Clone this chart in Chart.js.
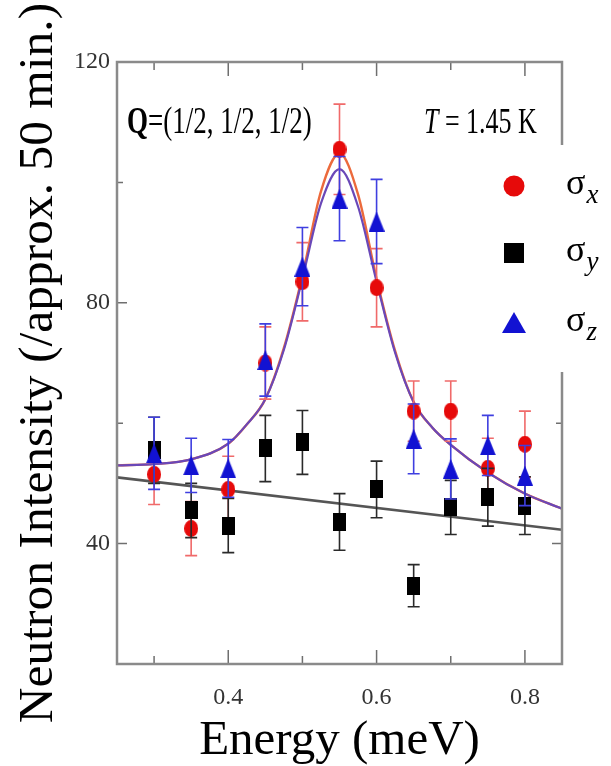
<!DOCTYPE html>
<html>
<head>
<meta charset="utf-8">
<script src="https://cdn.jsdelivr.net/npm/chart.js@4/dist/chart.umd.min.js"></script>
<style>
html,body{margin:0;padding:0;background:#fff;}
#wrap{width:611px;height:766px;position:relative;}
</style>
</head>
<body>
<div id="wrap"><canvas id="c"></canvas></div>
<script>
// ---- data ----
const energies = [0.30, 0.35, 0.40, 0.45, 0.50, 0.55, 0.60, 0.65, 0.70, 0.75, 0.80];
const sigmaX    = [51.5, 42.5, 49.0, 70.0, 83.5, 105.5, 82.5, 62.0, 62.0, 52.5, 56.5];
const sigmaXErr = [5.0, 4.5, 5.5, 6.0, 6.5, 7.5, 6.5, 5.0, 5.0, 5.0, 5.5];
const sigmaY    = [55.5, 45.5, 43.0, 55.8, 56.8, 43.6, 49.0, 33.0, 46.0, 47.7, 46.3];
const sigmaYErr = [5.5, 4.5, 4.5, 5.5, 5.3, 4.7, 4.7, 3.5, 4.5, 4.8, 4.8];
const sigmaZ    = [55.0, 53.0, 52.5, 70.5, 86.0, 97.3, 93.5, 57.4, 52.4, 56.3, 51.3];
const sigmaZErr = [6.0, 4.5, 4.8, 6.0, 6.5, 7.0, 7.0, 5.8, 5.0, 5.0, 5.0];

// fitted curves
const fitEnergy = [0.25, 0.30, 0.35, 0.40, 0.425, 0.45, 0.475, 0.50, 0.525, 0.55, 0.575, 0.60, 0.625, 0.65, 0.675, 0.70, 0.75, 0.80, 0.85];
const fitX      = [53.0, 53.2, 54.0, 56.6, 59.8, 64.0, 72.5, 84.5, 98.5, 104.8, 98.0, 84.0, 72.0, 63.5, 59.3, 56.4, 51.8, 48.3, 45.8];
const fitZ      = [53.0, 53.2, 54.0, 56.6, 59.8, 64.0, 72.2, 84.0, 96.5, 102.2, 96.0, 83.5, 71.7, 63.5, 59.3, 56.4, 51.8, 48.3, 45.8];
const fitYEnergy = [0.25, 0.85];
const fitY       = [51.0, 42.3];

// axes
const xTickValues = [0.4, 0.6, 0.8];
const xTickLabels = ['0.4', '0.6', '0.8'];
const xMinorTicks = [0.3, 0.5, 0.7];
const yTickValues = [40, 80, 120];
const yTickLabels = ['40', '80', '120'];
const yMinorTicks = [60, 100];

const seriesNames = ['x', 'y', 'z'];
const titleX = 'Energy (meV)';
const titleY = 'Neutron Intensity (/approx. 50 min.)';
const annotQ = ['Q', '=(1/2, 1/2, 1/2)'];
const annotT = ['T', ' = 1.45 K'];

// ---- helpers ----
const pts = (xs, ys) => xs.map((x, i) => ({x: x, y: ys[i]}));
function marker(shape, w, h, color) {
  const c = document.createElement('canvas');
  c.width = w; c.height = h;
  const g = c.getContext('2d');
  g.fillStyle = color;
  g.beginPath();
  if (shape === 'circle') { g.ellipse(w/2, h/2, w/2, h/2, 0, 0, Math.PI*2); }
  else if (shape === 'rect') { g.rect(0, 0, w, h); }
  else { g.moveTo(w/2, 0); g.lineTo(w, h); g.lineTo(0, h); g.closePath(); }
  g.fill();
  return c;
}
const RED = '#e60a0a', BLACK = '#000000', BLUE = '#1212d2';

const errorBars = {
  id: 'errorBars',
  beforeDatasetDraw(chart, args) {
    const ds = chart.data.datasets[args.index];
    if (!ds.errors) return;
    const ys = chart.scales.y, ctx = chart.ctx;
    ctx.save();
    ctx.strokeStyle = ds.errorColor;
    ctx.lineWidth = 1.6;
    args.meta.data.forEach((p, i) => {
      const v = ds.data[i].y, e = ds.errors[i];
      const y1 = ys.getPixelForValue(v + e), y2 = ys.getPixelForValue(v - e);
      ctx.beginPath();
      ctx.moveTo(p.x, y1); ctx.lineTo(p.x, y2);
      ctx.moveTo(p.x - 6, y1); ctx.lineTo(p.x + 6, y1);
      ctx.moveTo(p.x - 6, y2); ctx.lineTo(p.x + 6, y2);
      ctx.stroke();
    });
    ctx.restore();
  }
};

const frameTicks = {
  id: 'frameTicks',
  beforeDraw(chart) {
    const ctx = chart.ctx;
    ctx.save(); ctx.fillStyle = '#fff'; ctx.fillRect(0, 0, chart.width, chart.height); ctx.restore();
  },
  afterDatasetsDraw(chart) {
    const ctx = chart.ctx, a = chart.chartArea, xs = chart.scales.x, ys = chart.scales.y;
    ctx.save();
    ctx.strokeStyle = '#6f6f6f';
    ctx.lineWidth = 1.5;
    const xt = (vals, len) => vals.forEach(v => {
      const px = xs.getPixelForValue(v);
      ctx.beginPath();
      ctx.moveTo(px, a.bottom); ctx.lineTo(px, a.bottom - len);
      ctx.moveTo(px, a.top); ctx.lineTo(px, a.top + len);
      ctx.stroke();
    });
    const yt = (vals, len) => vals.forEach(v => {
      const py = ys.getPixelForValue(v);
      ctx.beginPath();
      ctx.moveTo(a.left, py); ctx.lineTo(a.left + len, py);
      ctx.moveTo(a.right, py); ctx.lineTo(a.right - len, py);
      ctx.stroke();
    });
    xt(xTickValues, 14); xt(xMinorTicks, 8);
    yt(yTickValues, 10); yt(yMinorTicks, 6);
    ctx.strokeStyle = '#8a8a8a';
    ctx.lineWidth = 2.5;
    ctx.strokeRect(a.left, a.top, a.right - a.left, a.bottom - a.top);
    ctx.restore();
  },
  afterDraw(chart) {
    const ctx = chart.ctx, a = chart.chartArea;
    ctx.save();
    // annotations (condensed look: stretched vertically)
    ctx.fillStyle = '#000';
    ctx.textBaseline = 'middle';
    ctx.textAlign = 'left';
    ctx.translate(a.left + 10, 123);
    ctx.scale(1, 1.4);
    ctx.font = 'bold 27px "Liberation Serif"';
    ctx.fillText(annotQ[0], 0, 0);
    let w = ctx.measureText(annotQ[0]).width;
    ctx.font = '27px "Liberation Serif"';
    ctx.fillText(annotQ[1], w, 0);
    ctx.setTransform(1, 0, 0, 1, 0, 0);
    ctx.translate(424, 123);
    ctx.scale(1, 1.4);
    ctx.font = 'italic 26px "Liberation Serif"';
    ctx.fillText(annotT[0], 0, 0);
    w = ctx.measureText(annotT[0]).width;
    ctx.font = '26px "Liberation Serif"';
    ctx.fillText(annotT[1], w, 0);
    ctx.setTransform(1, 0, 0, 1, 0, 0);
    // legend box
    ctx.fillStyle = '#fff';
    ctx.fillRect(480, 145, 131, 227);
    const rows = [186, 253, 323];
    const cols = [RED, BLACK, BLUE];
    rows.forEach((cy, i) => {
      ctx.fillStyle = cols[i];
      ctx.beginPath();
      if (i === 0) ctx.arc(514, cy, 10.5, 0, Math.PI*2);
      else if (i === 1) ctx.rect(504, cy - 10, 20, 20);
      else { ctx.moveTo(514, cy - 11); ctx.lineTo(526, cy + 10); ctx.lineTo(502, cy + 10); ctx.closePath(); }
      ctx.fill();
      ctx.fillStyle = '#000';
      ctx.textBaseline = 'alphabetic';
      ctx.font = '36px "Liberation Serif"';
      ctx.fillText('σ', 566, cy + 8);
      const sw = ctx.measureText('σ').width;
      ctx.font = 'italic 27px "Liberation Serif"';
      ctx.fillText(seriesNames[i], 566 + sw + 1, cy + 17);
    });
    ctx.restore();
  }
};

const chart = new Chart(document.getElementById('c'), {
  type: 'scatter',
  data: {
    datasets: [
      { label: 'σz', data: pts(energies, sigmaZ), errors: sigmaZErr, errorColor: '#3f3fe0',
        pointStyle: marker('tri', 16, 20, BLUE), pointRadius: 7, showLine: false, order: 1 },
      { label: 'σy', data: pts(energies, sigmaY), errors: sigmaYErr, errorColor: '#2a2a2a',
        pointStyle: marker('rect', 13, 18, BLACK), pointRadius: 7, showLine: false, order: 2 },
      { label: 'σx', data: pts(energies, sigmaX), errors: sigmaXErr, errorColor: '#f06a6a',
        pointStyle: marker('circle', 14, 17, RED), pointRadius: 7, showLine: false, order: 3 },
      { label: 'fit σz', type: 'line', data: pts(fitEnergy, fitZ), borderColor: '#6a48b8', borderWidth: 2.2,
        pointRadius: 0, showLine: true, fill: false, cubicInterpolationMode: 'monotone', order: 4 },
      { label: 'fit σx', type: 'line', data: pts(fitEnergy, fitX), borderColor: '#ec6a3c', borderWidth: 2.4,
        pointRadius: 0, showLine: true, fill: false, cubicInterpolationMode: 'monotone', order: 5 },
      { label: 'fit σy', type: 'line', data: pts(fitYEnergy, fitY), borderColor: '#555555', borderWidth: 2.6,
        pointRadius: 0, showLine: true, fill: false, order: 6 }
    ]
  },
  options: {
    responsive: true,
    maintainAspectRatio: false,
    animation: false,
    layout: { padding: { top: 62, right: 49, bottom: 0, left: 0 } },
    plugins: { legend: { display: false }, tooltip: { enabled: false } },
    scales: {
      x: {
        type: 'linear', min: 0.25, max: 0.85,
        grid: { display: false, drawTicks: false },
        border: { display: false },
        afterBuildTicks: s => { s.ticks = xTickValues.map(v => ({ value: v })); },
        afterFit: s => { s.height = 102; },
        ticks: {
          autoSkip: false, maxRotation: 0, padding: 19, color: '#333',
          font: { family: 'Liberation Serif', size: 24 },
          callback: (v, i) => xTickLabels[i]
        },
        title: { display: true, text: titleX, color: '#000',
          font: { family: 'Liberation Serif', size: 49, lineHeight: 1 }, padding: { top: 0, bottom: 0 } }
      },
      y: {
        type: 'linear', min: 20, max: 120,
        grid: { display: false, drawTicks: false },
        border: { display: false },
        afterBuildTicks: s => { s.ticks = yTickValues.map(v => ({ value: v })); },
        afterFit: s => { s.width = 117; },
        ticks: {
          autoSkip: false, padding: 7, color: '#333',
          font: { family: 'Liberation Serif', size: 24 },
          callback: (v, i) => yTickLabels[i]
        },
        title: { display: true, text: titleY, color: '#000',
          font: { family: 'Liberation Serif', size: 49.5, lineHeight: 1 }, padding: { top: 14, bottom: 0 } }
      }
    }
  },
  plugins: [frameTicks, errorBars]
});
</script>
</body>
</html>
